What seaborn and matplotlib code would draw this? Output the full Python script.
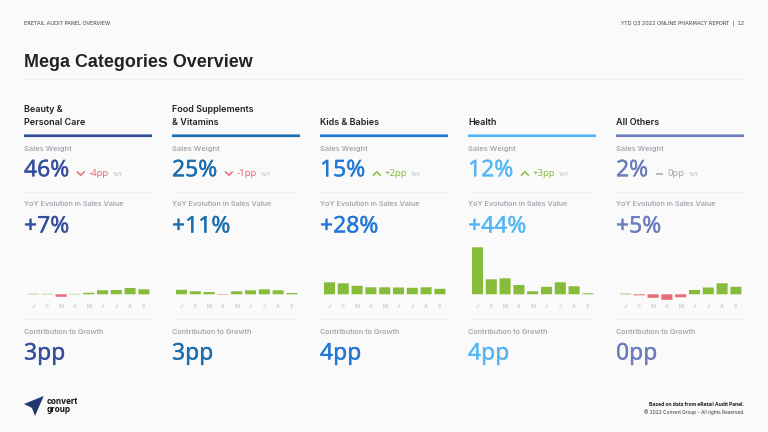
import matplotlib
matplotlib.use("Agg")
import matplotlib.pyplot as plt
import matplotlib.patheffects as pe
from matplotlib.patches import Polygon, Rectangle
import pandas as pd
import seaborn as sns

months = ["J", "F", "M", "A", "M", "J", "J", "A", "S"]
month_ids = list(range(9))
categories = ["Beauty &\nPersonal Care", "Food Supplements\n& Vitamins", "Kids & Babies", "Health", "All Others"]
sales_weight = ["46%", "25%", "15%", "12%", "2%"]
weight_delta = ["-4pp", "-1pp", "+2pp", "+3pp", "0pp"]
delta_dir = [-1, -1, 1, 1, 0]
yoy_evolution = ["+7%", "+11%", "+28%", "+44%", "+5%"]
contribution = ["3pp", "3pp", "4pp", "4pp", "0pp"]
colors = ["#354E9E", "#1B6FAE", "#2277D6", "#54B7F5", "#6B7CBF"]

beauty = [0.5, 0.5, -2.5, 0.4, 1.5, 4.0, 4.3, 6.3, 5.0]
food = [4.5, 3.0, 2.3, -0.4, 3.0, 4.0, 5.0, 4.0, 1.3]
kids = [12.0, 11.0, 8.5, 7.0, 7.0, 6.8, 6.5, 7.0, 5.5]
health = [47.0, 15.0, 16.0, 9.3, 3.0, 7.5, 12.0, 8.0, 1.0]
others = [0.7, -1.0, -3.5, -5.5, -3.0, 4.3, 6.8, 11.0, 7.5]
monthly = [beauty, food, kids, health, others]

GREEN, RED, GREY = "#86BC3A", "#E96A78", "#A6A8B0"
DARK = "#222326"
NUM = "Noto Sans"
W, H = 768, 432
BG = "#FAFAFA"
sns.set_theme(style="white")
plt.rcParams["font.family"] = ["Inter", "DejaVu Sans"]

fig = plt.figure(figsize=(W / 100, H / 100), dpi=100, facecolor=BG)
ov = fig.add_axes([0, 0, 1, 1], zorder=5)
ov.set_xlim(0, W)
ov.set_ylim(H, 0)
ov.axis("off")
ov.patch.set_alpha(0)


def txt(x, y, s, size, color=DARK, weight="normal", family="Inter", ha="left", va="center", stroke=0, **kw):
    t = ov.text(x, y, s, fontsize=size, color=color, fontweight=weight, family=family, ha=ha, va=va, **kw)
    if stroke:
        t.set_path_effects([pe.withStroke(linewidth=stroke, foreground=color)])
    return t


def rule(x, y, w, h, color):
    ov.add_patch(Rectangle((x, y), w, h, fc=color, ec="none", snap=False))


txt(24, 23.7, "ERETAIL AUDIT PANEL OVERVIEW", 3.75, "#444444", family="DejaVu Sans")
txt(744, 23.7, "YTD Q3 2022 ONLINE PHARMACY REPORT  |  12", 3.75, "#444444", family="DejaVu Sans", ha="right")
txt(24, 62.5, "Mega Categories Overview", 12.9, DARK, "bold", "Liberation Sans")
rule(24, 79, 720, 1, "#EFEFEF")

col_x = [24, 172, 320, 468, 616]
for i, x in enumerate(col_x):
    c = colors[i]
    lines = categories[i].split("\n")
    if len(lines) == 2:
        txt(x, 110, lines[0], 6.5, DARK, "semibold")
    txt(x, 122.7, lines[-1], 6.5, DARK, "semibold")
    rule(x, 134.4, 128, 2.7, c)
    txt(x, 148.7, "Sales Weight", 5.4, GREY, "semibold")
    big = txt(x, 170.3, sales_weight[i], 16.5, c, "medium", NUM, stroke=0.25)
    fig.canvas.draw()
    right = big.get_window_extent().x1
    dx = right + 8
    if delta_dir[i] == 0:
        dcol = GREY
        ov.plot([dx, dx + 7], [173.5, 173.5], color=dcol, lw=1.1, solid_capstyle="butt")
    else:
        dcol = RED if delta_dir[i] < 0 else GREEN
        cy = 173.5
        s = 1.7 * -delta_dir[i]
        ov.plot([dx, dx + 3.5, dx + 7], [cy - s, cy + s, cy - s], color=dcol, lw=1.1)
    d = txt(dx + 11, 174, weight_delta[i], 6.9, dcol, "normal", NUM)
    fig.canvas.draw()
    txt(d.get_window_extent().x1 + 4.5, 174.5, "YoY", 3.8, "#B5B7BD")
    rule(x, 192, 128, 0.7, "#EEEEEE")
    txt(x, 204.5, "YoY Evolution in Sales Value", 5.2, GREY, "semibold")
    txt(x, 226.5, yoy_evolution[i], 16.5, c, "medium", NUM, stroke=0.25)
    rule(x, 319, 128, 0.7, "#EEEEEE")
    txt(x, 331.5, "Contribution to Growth", 5.2, GREY, "semibold")
    txt(x, 353.5, contribution[i], 16.5, c, "medium", NUM, stroke=0.25)

    # monthly mini bars: axes scaled so one data unit is one pixel
    left, right_px, top, bottom = x + 2.6, x + 126.8, 240, 312
    baseline = 294.3
    ax = fig.add_axes([left / W, 1 - bottom / H, (right_px - left) / W, (bottom - top) / H], facecolor="none")
    df = pd.DataFrame({"m": month_ids, "v": monthly[i]})
    df["sign"] = ["up" if v >= 0 else "down" for v in df["v"]]
    sns.barplot(data=df, x="m", y="v", hue="sign", palette={"up": GREEN, "down": RED},
                dodge=False, width=0.8, legend=False, ax=ax, linewidth=0, order=month_ids, saturation=1)
    for p in ax.patches:
        p.set_snap(False)
    ax.set_ylim(baseline - bottom, baseline - top)
    ax.set_xlim(-0.5, 8.5)
    ax.set_xlabel("")
    ax.set_ylabel("")
    ax.set_yticks([])
    ax.set_xticks(month_ids)
    ax.set_xticklabels(months, fontsize=3.9, color="#B5B7BD")
    ax.tick_params(axis="x", length=0, pad=0)
    for lab in ax.get_xticklabels():
        lab.set_y(0)
        lab.set_transform(ax.get_xaxis_transform())
        lab.set_position((lab.get_position()[0], (bottom - 306) / (bottom - top)))
        lab.set_va("center")
    sns.despine(ax=ax, left=True, bottom=True)

ov.add_patch(Polygon([(43.7, 396), (24, 404), (32, 408), (35, 416)], closed=True, fc="#22396F", ec="none"))
txt(46.5, 401.6, "convert", 5.9, "#111111", "bold")
txt(46.5, 409.8, "group", 5.9, "#111111", "bold")
txt(744, 404.2, "Based on data from eRetail Audit Panel.", 3.6, "#222222", "bold", ha="right")
txt(744, 412.2, "© 2022 Convert Group - All rights Reserved.", 3.45, "#333333", ha="right")

fig.savefig("out.png", dpi=100, facecolor=BG)
